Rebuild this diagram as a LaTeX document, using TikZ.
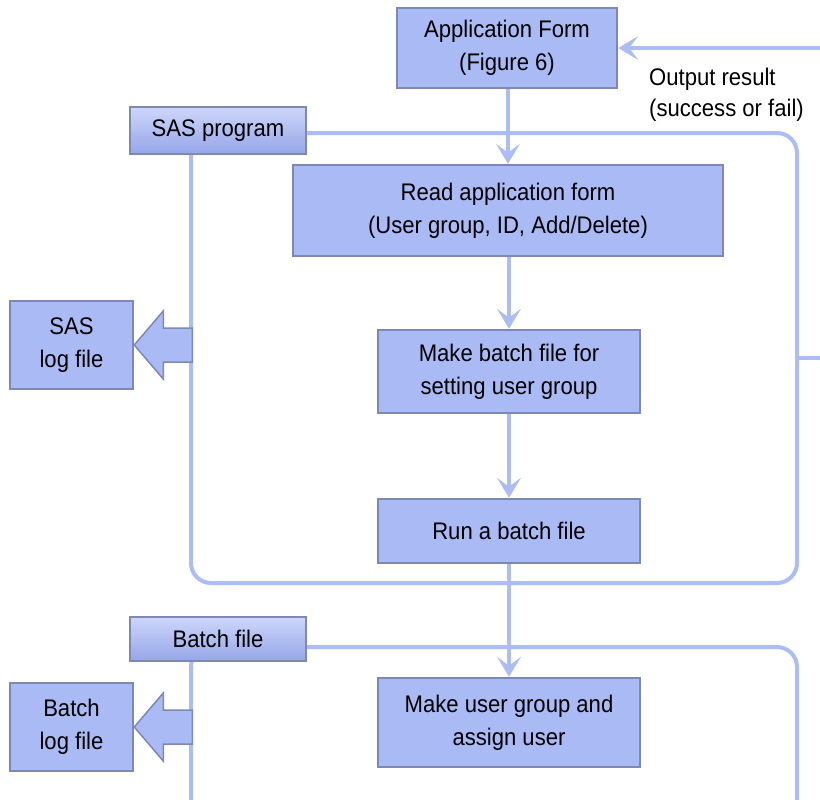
\documentclass[tikz,border=0pt]{standalone}
\usepackage{fontspec}
\setmainfont{Liberation Sans}[FakeStretch=0.92]
\usepackage{tikz}
\usetikzlibrary{positioning, arrows.meta}

\definecolor{boxfill}{RGB}{170,186,245}
\definecolor{boxline}{RGB}{126,136,180}
\definecolor{flowline}{RGB}{172,189,246}
\definecolor{tabtop}{RGB}{205,214,250}
\definecolor{tabbot}{RGB}{150,166,232}

\tikzset{
  proc/.style={draw=boxline, line width=2.5pt, fill=boxfill, align=center,
    font=\fontsize{24}{33}\selectfont, inner sep=0pt},
  tab/.style={draw=boxline, line width=1.5pt, top color=tabtop, bottom color=tabbot,
    minimum width=176pt, inner sep=0pt, font=\fontsize{24}{25}\selectfont},
  container/.style={draw=flowline, line width=4pt, rounded corners=20pt},
  flow/.style={draw=flowline, line width=4pt,
    -{Stealth[length=20pt, width=24pt, inset=9pt]}},
  blockarrow/.style={draw=boxline, line width=1.5pt, fill=boxfill, line join=miter}
}

\begin{document}
\begin{tikzpicture}[x=1pt, y=-1pt]
  \useasboundingbox (0,0) rectangle (820,800);
  \clip (0,0) rectangle (820,800);

  % containers
  \draw[container] (191,133) rectangle (797,583);
  \draw[container] (191,647) rectangle (797,840);

  \node[tab, minimum height=47pt] (sasprog) at (218,130.5) {SAS program};
  \node[tab, minimum height=44pt] (batchfile) at (218,639) {Batch file};

  % process boxes
  \node[proc, minimum width=220pt, minimum height=80pt] (appform) at (507,48)
    {Application Form\\(Figure 6)};
  \node[proc, minimum width=430pt, minimum height=91pt] (readform) at (508,210.5)
    {Read application form\\(User group, ID, Add/Delete)};
  \node[proc, minimum width=262pt, minimum height=83pt] (makebatch) at (509,371.5)
    {Make batch file for\\setting user group};
  \node[proc, minimum width=262pt, minimum height=64pt] (runbatch) at (509,531)
    {Run a batch file};
  \node[proc, minimum width=262pt, minimum height=89pt] (makeuser) at (509,722.5)
    {Make user group and\\assign user};

  \node[proc, minimum width=123pt, minimum height=88pt] (SASlog) at (71.5,345)
    {SAS\\log file};
  \node[proc, minimum width=123pt, minimum height=88pt] (Batchlog) at (71.5,727)
    {Batch\\log file};

  \node[align=left, anchor=north west, inner sep=0pt,
    font=\fontsize{24}{31}\selectfont] (outres) at (649,68)
    {Output result\\(success or fail)};

  % flow
  \draw[flow] (appform.south -| readform.north) -- (readform.north);
  \draw[flow] (readform.south -| makebatch.north) -- (makebatch.north);
  \draw[flow] (makebatch) -- (runbatch);
  \draw[flow] (runbatch) -- (makeuser);
  \coordinate (outstart) at (797,358);
  \draw[flow] (outstart) -- ++(45,0) |- (appform.east);

  % log arrows
  \foreach \lg in {SASlog, Batchlog}
    \draw[blockarrow] (\lg.east) -- ++(29,-34) -- ++(0,17) -- ++(29,0)
      -- ++(0,34) -- ++(-29,0) -- ++(0,17) -- cycle;
\end{tikzpicture}
\end{document}
